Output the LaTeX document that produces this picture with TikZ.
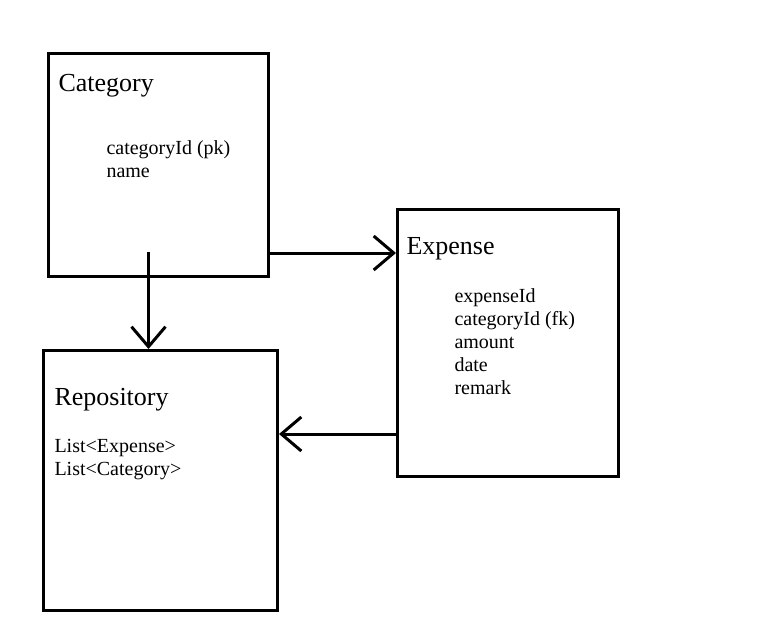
\documentclass[tikz,border=0pt]{standalone}
\usepackage{fontspec}
\setmainfont{Liberation Serif}
\usetikzlibrary{arrows.meta, calc}
\tikzset{
  every picture/.style={line width=3pt, x=1pt, y=-1pt},
  entity/.style={draw=black, rectangle, anchor=north west, inner sep=0pt},
  arrow/.style={-{Straight Barb[length=20pt, width=34pt, line cap=butt]}, draw=black},
  title/.style={anchor=base west, inner sep=0pt, font=\fontsize{26}{30}\selectfont},
  attrs/.style={anchor=base west, inner sep=0pt, align=left, font=\fontsize{20}{23}\selectfont},
}

\begin{document}
\begin{tikzpicture}
  \useasboundingbox (0,0) rectangle (770,623);
  % boxes
  \node[entity, minimum width=220pt, minimum height=223pt] (cat) at (47,52) {};
  \node[entity, minimum width=221pt, minimum height=267pt] (exp) at (396,208) {};
  \node[entity, minimum width=234pt, minimum height=260pt] (rep) at (42,349) {};
  % texts (attrs are placed by the baseline of their last line)
  \node[title] (cattitle) at (57,92) {Category};
  \node[attrs] (catattr) at (105,177) {categoryId (pk)\\ name};
  \node[title] (exptitle) at (405,254) {Expense};
  \node[attrs] (expattr) at (453,394) {expenseId\\ categoryId (fk)\\ amount\\ date\\ remark};
  \node[title] (reptitle) at (53,405) {Repository};
  \node[attrs] (repattr) at (53,475) {List<Expense>\\ List<Category>};
  % links
  \draw[arrow] ([xshift=-10pt, yshift=26pt]cat.south) -- ([xshift=-10pt]cat.south |- rep.north);
  \draw[arrow] ([yshift=-88pt]cat.east) -- ([yshift=-88pt]cat.east -| exp.west);
  \draw[arrow] ([yshift=-91pt]exp.west) -- ([yshift=-91pt]exp.west -| rep.east);
\end{tikzpicture}
\end{document}
